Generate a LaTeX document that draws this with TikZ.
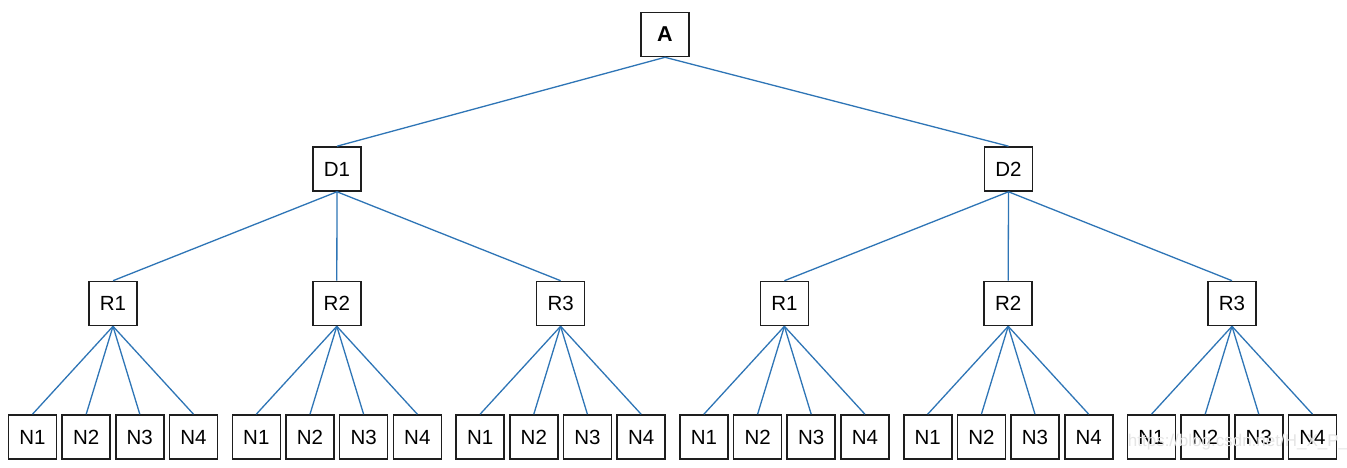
\documentclass[tikz,border=0pt]{standalone}
\usepackage{fontspec}
\setmainfont{Liberation Sans}
\definecolor{edgeblue}{RGB}{46,117,182}
\definecolor{boxline}{RGB}{30,30,30}
\begin{document}
\begin{tikzpicture}[x=1pt,y=-1pt,
  box/.style={draw=boxline,line width=1.6pt,fill=white,minimum width=48pt,minimum height=44pt,inner sep=0pt,font=\fontsize{20.5}{24}\selectfont},
  link/.style={draw=edgeblue,line width=1.3pt}]
\useasboundingbox (0,0) rectangle (1347,468);
\fill[white] (0,0) rectangle (1347,468);
% nodes
\node[box,font=\fontsize{21.5}{24}\selectfont\bfseries] (A) at (665,34.5) {A};
\node[box] (D1) at (337,169) {D1};
\node[box] (D2) at (1008.5,169) {D2};
\foreach \i/\lab in {0/R1,1/R2,2/R3,3/R1,4/R2,5/R3}{
  \pgfmathsetmacro{\rx}{113+223.8*\i}
  \node[box] (R\i) at (\rx,303.5) {\lab};
  \foreach \j/\off in {1/-80.5,2/-26.8,3/26.8,4/80.5}{
    \pgfmathsetmacro{\nx}{\rx+\off}
    \node[box] (N\i\j) at (\nx,437) {N\j};
  }
}
% edges
\draw[link] (A.south) -- (D1.north);
\draw[link] (A.south) -- (D2.north);
\foreach \i in {0,1,2}{\draw[link] (D1.south) -- (R\i.north);}
\foreach \i in {3,4,5}{\draw[link] (D2.south) -- (R\i.north);}
\foreach \i in {0,...,5}{
  \foreach \j in {1,...,4}{\draw[link] (R\i.south) -- (N\i\j.north);}
}
\node (wm) at (1238,442) {\textcolor{black!10}{\fontsize{17}{20}\selectfont https://blog.csdn.net/H\_X\_P\_}};
\end{tikzpicture}
\end{document}
